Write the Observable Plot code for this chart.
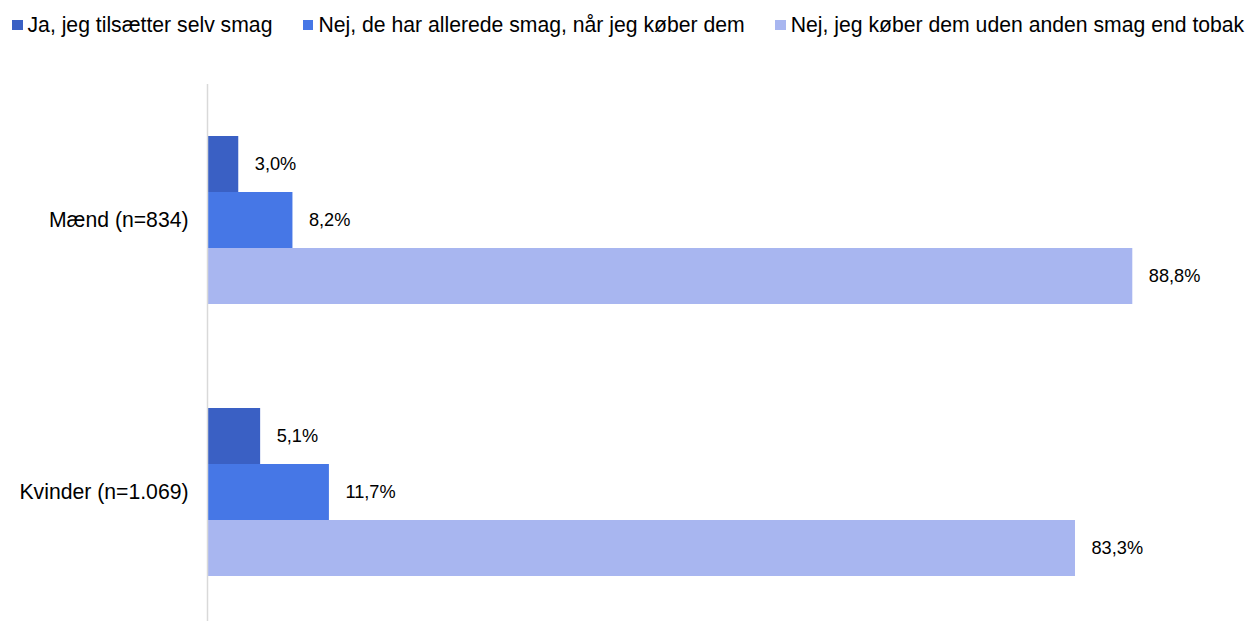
<!DOCTYPE html>
<html>
<head>
<meta charset="utf-8">
<script src="https://cdn.jsdelivr.net/npm/d3@7"></script>
<script src="https://cdn.jsdelivr.net/npm/@observablehq/plot@0.6"></script>
<style>
  html, body { margin: 0; padding: 0; background: #fff; overflow: hidden; }
  body { font-family: "Liberation Sans", Arial, sans-serif; width: 1250px; height: 621px; }
  #legend { height: 50px; display: flex; align-items: center; padding-left: 12px; box-sizing: border-box; font-size: 21.2px; color: #000; white-space: nowrap; }
  .item { display: flex; align-items: center; margin-right: 30.5px; }
  .sw { width: 10.5px; height: 10.5px; margin-right: 5px; display: inline-block; flex: none; }
</style>
</head>
<body>
<div id="legend"></div>
<div id="chart"></div>
<script>
const categories = ["Mænd (n=834)", "Kvinder (n=1.069)"];
const series = [
  "Ja, jeg tilsætter selv smag",
  "Nej, de har allerede smag, når jeg køber dem",
  "Nej, jeg køber dem uden anden smag end tobak"
];
const maendValues = [3.0, 8.2, 88.8];
const kvinderValues = [5.1, 11.7, 83.3];
const colors = ["#3a60c4", "#4677e6", "#a8b6f0"];

const valuesByCategory = [maendValues, kvinderValues];
const rows = [];
categories.forEach((c, i) => {
  series.forEach((s, j) => rows.push({category: c, series: s, value: valuesByCategory[i][j]}));
});

const fmt = v => v.toFixed(1).replace(".", ",") + "%";

// Legend
const legend = document.getElementById("legend");
series.forEach((s, j) => {
  const item = document.createElement("div");
  item.className = "item";
  const sw = document.createElement("span");
  sw.className = "sw";
  sw.style.background = colors[j];
  const t = document.createElement("span");
  t.textContent = s;
  item.appendChild(sw);
  item.appendChild(t);
  legend.appendChild(item);
});

const chart = Plot.plot({
  width: 1250,
  height: 578,
  marginTop: 33,
  marginBottom: 0,
  marginLeft: 207,
  marginRight: 1,
  style: {
    fontFamily: '"Liberation Sans", Arial, sans-serif',
    fontSize: "21.2px",
    color: "#000",
    background: "#fff",
    overflow: "visible"
  },
  x: {domain: [0, 100], axis: null},
  y: {domain: series, axis: null, paddingInner: 0, paddingOuter: 0.924},
  fy: {domain: categories, padding: 0, axis: "left", tickSize: 0, tickPadding: 19, label: null},
  color: {domain: series, range: colors},
  facet: {data: rows, y: "category"},
  marks: [
    Plot.barX(rows, {x: "value", y: "series", fill: "series"}),
    Plot.text(rows, {x: "value", y: "series", text: d => fmt(d.value), textAnchor: "start", dx: 16, fontSize: 18.2, fill: "#000"}),
    Plot.ruleX([0], {stroke: "#d9d9d9", strokeWidth: 1.5})
  ]
});
document.getElementById("chart").appendChild(chart);
</script>
</body>
</html>
